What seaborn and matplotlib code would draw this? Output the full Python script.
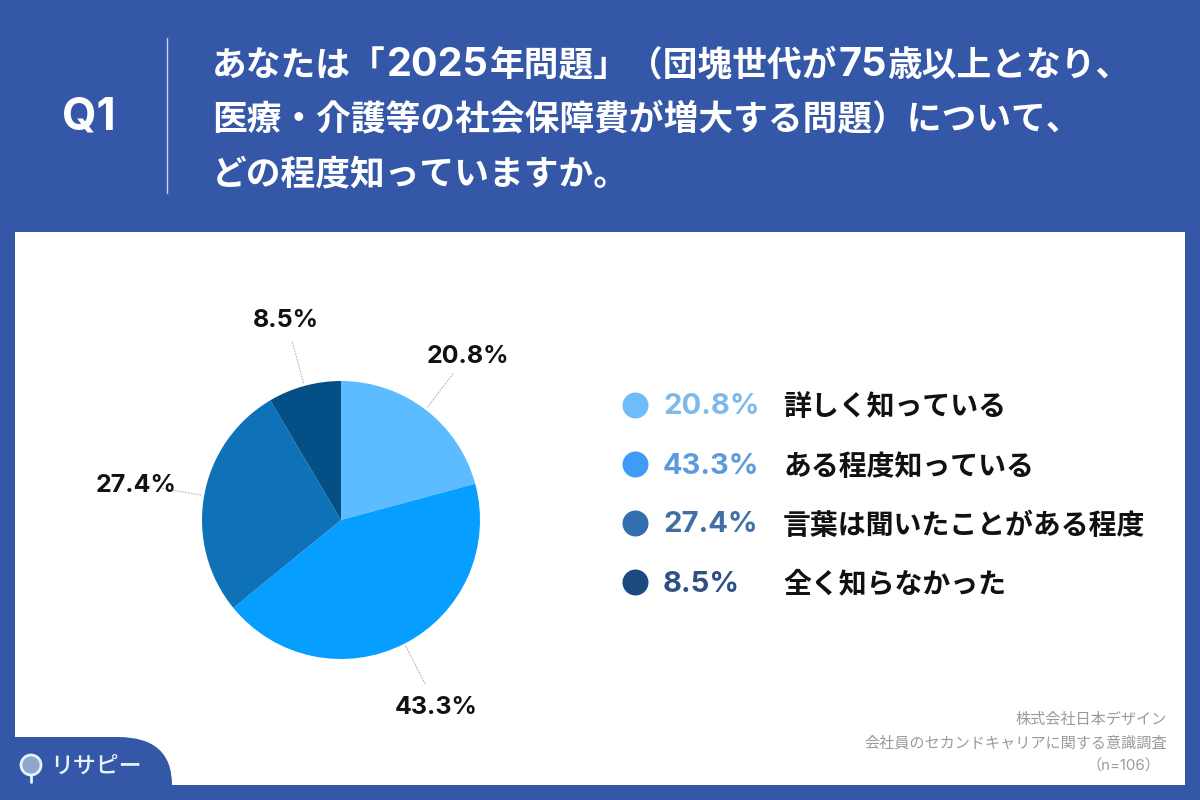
#!/usr/bin/env python3
"""Survey result pie chart: awareness of the 2025 problem."""

import re
import numpy as np
import matplotlib
matplotlib.use("Agg")
import matplotlib.pyplot as plt
from matplotlib.patches import Circle, PathPatch, Rectangle
from matplotlib.path import Path
import seaborn as sns

# Chart data
categories = ["詳しく知っている", "ある程度知っている", "言葉は聞いたことがある程度", "全く知らなかった"]
shares = [20.8, 43.3, 27.4, 8.5]
title_lines = [
    "あなたは「2025年問題」（団塊世代が75歳以上となり、",
    "医療・介護等の社会保障費が増大する問題）について、",
    "どの程度知っていますか。",
]
source_lines = ["株式会社日本デザイン", "会社員のセカンドキャリアに関する意識調査", "（n=106）"]

# Colours
BG = "#3557a7"
pie_colors = sns.color_palette(["#5cbcff", "#069fff", "#0f72b8", "#054f87"])
dot_colors = ["#6fbdf8", "#3f9bf5", "#336fae", "#1c4a80"]
pct_colors = ["#7db9ea", "#5b9bdd", "#3f6fa3", "#2f4f86"]

sns.set_theme(style="white")
plt.rcParams["font.family"] = ["Inter", "Noto Sans CJK JP", "DejaVu Sans"]

fig = plt.figure(figsize=(12, 8), dpi=100, facecolor=BG)

# Overlay axes in pixel coordinates for the panel, header and legend
bg = fig.add_axes([0, 0, 1, 1])
bg.set_xlim(0, 1200)
bg.set_ylim(800, 0)
bg.axis("off")

bg.add_patch(Rectangle((15, 232), 1170, 553, fc="white", ec="none"))


def draw_title_line(x, y, line, size=25.0, digit_size=28.5):
    """Write one title line, the digits are set larger than the kana."""
    renderer = fig.canvas.get_renderer()
    for run in re.split(r"(\d+)", line):
        if not run:
            continue
        t = bg.text(x, y, run, color="white", fontweight="bold", ha="left", va="baseline",
                    fontsize=digit_size if run.isdigit() else size)
        x += t.get_window_extent(renderer).width + 1


# Header
bg.plot([167, 167], [38, 193], color="#c9d3ea", lw=1)
bg.text(89, 118, "Q1", color="white", fontsize=32, fontweight="bold", ha="center", va="center")
for i, line in enumerate(title_lines):
    draw_title_line(212, 76 + i * 54, line)

# Logo tab in the bottom left corner
tab = Path(
    [(15, 737), (118, 737), (172, 737), (172, 785), (15, 785), (15, 737)],
    [Path.MOVETO, Path.LINETO, Path.CURVE3, Path.CURVE3, Path.LINETO, Path.CLOSEPOLY],
)
bg.add_patch(PathPatch(tab, fc=BG, ec="none"))
bg.add_patch(Circle((31, 765), 10, fc="#8fa6cf", ec="#e4f3fb", lw=2))
bg.plot([31, 31], [776, 782], color="#e4f3fb", lw=2, solid_capstyle="round")
bg.text(50, 767, "リサピー", color="#e8f4fb", fontsize=16.5, fontweight="medium", ha="left", va="center")

# Legend rows
for i, (cat, val) in enumerate(zip(categories, shares)):
    y = 405 + i * 59
    sns.scatterplot(x=[635], y=[y], s=350, color=dot_colors[i], linewidth=0, ax=bg, legend=False)
    bg.text(663, y + 2, f"{val}%", color=pct_colors[i], fontsize=21, fontweight="bold",
            ha="left", va="center")
    bg.text(783, y + 3, cat, color="#111111", fontsize=20.1, fontweight="bold",
            ha="left", va="center")

# Source note
for line, y in zip(source_lines, [720, 743, 766]):
    bg.text(1167 if y < 760 else 1160, y, line, color="#9a9a9a", fontsize=10.9, ha="right", va="center")

bg.set_xlim(0, 1200)
bg.set_ylim(800, 0)

# Pie, axes box matches the diameter
ax = fig.add_axes([202 / 1200, 1 - 659 / 800, 278 / 1200, 278 / 800])
ax.patch.set_alpha(0)
wedges, labels = ax.pie(
    shares,
    colors=pie_colors,
    startangle=90,
    counterclock=False,
    radius=1,
    labels=[f"{v}%" for v in shares],
    labeldistance=1.5,
    textprops={"fontsize": 18, "fontweight": "bold", "color": "#111111",
               "ha": "center", "va": "center"},
    wedgeprops={"linewidth": 0},
)
ax.set_xlim(-1, 1)
ax.set_ylim(-1, 1)
for w in wedges:
    w.set_clip_on(False)
for t in labels:
    t.set_clip_on(False)
    # nudge down a little, the glyphs sit high in the line box
    px, py = t.get_position()
    t.set_position((px, py - 0.015))

# Thin leader lines between slices and their labels
for w in wedges:
    ang = np.deg2rad((w.theta1 + w.theta2) / 2)
    ax.plot([1.02 * np.cos(ang), 1.33 * np.cos(ang)],
            [1.02 * np.sin(ang), 1.33 * np.sin(ang)],
            color="#b9aebd", lw=0.7, ls=(0, (2, 1)), clip_on=False)

fig.savefig("out.png", dpi=100, facecolor=BG)
plt.close(fig)
